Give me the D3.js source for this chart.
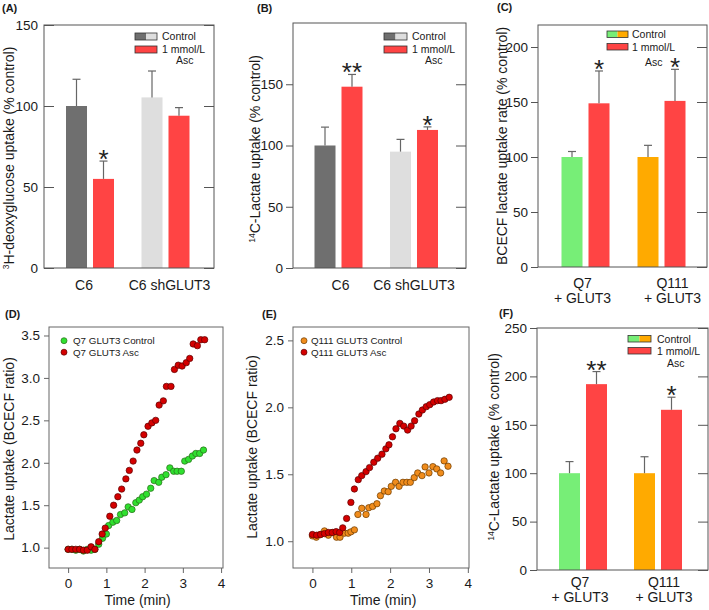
<!DOCTYPE html>
<html><head><meta charset="utf-8">
<script src="https://cdn.jsdelivr.net/npm/d3@7/dist/d3.min.js"></script>
<style>
body{margin:0;background:#fff}
svg{display:block;font-family:"Liberation Sans",Arial,sans-serif}
</style>
</head><body>
<svg id="c" width="709" height="610"></svg>
<script>
// ---------------- DATA ----------------
const groupsC6 = ["C6", "C6 shGLUT3"];
const groupsQ = [["Q7", "+ GLUT3"], ["Q111", "+ GLUT3"]];
const legendLabels = ["Control", "1 mmol/L", "Asc"];

// (A) 3H-deoxyglucose uptake (% control)
const aControl = [100, 105.3];
const aControlErr = [16.5, 16.3];
const aAsc = [55, 94];
const aAscErr = [11, 5];
const aSig = ["*", ""];
const aTicks = [0, 50, 100, 150];

// (B) 14C-Lactate uptake (% control)
const bControl = [100, 95];
const bControlErr = [15, 10];
const bAsc = [148, 112.7];
const bAscErr = [10, 2.5];
const bSig = ["**", "*"];
const bTicks = [0, 50, 100, 150];

// (C) BCECF lactate uptake rate (% control)
const cControl = [100, 100];
const cControlErr = [5, 10.6];
const cAsc = [148.8, 151];
const cAscErr = [29.4, 28.7];
const cSig = ["*", "*"];
const cTicks = [0, 50, 100, 150, 200];

// (F) 14C-Lactate uptake (% control)
const fControl = [100, 100];
const fControlErr = [12, 17];
const fAsc = [192, 165.5];
const fAscErr = [13, 13];
const fSig = ["**", "*"];
const fTicks = [0, 50, 100, 150, 200, 250];

// (D) Q7 GLUT3 time course
const q7ControlT = [0,0.1,0.2,0.3,0.4,0.5,0.6,0.7,0.8,0.9,1.0,1.06,1.17,1.27,1.37,1.48,1.57,1.67,1.77,1.86,1.95,2.05,2.16,2.25,2.37,2.45,2.56,2.66,2.76,2.85,2.96,3.05,3.15,3.25,3.34,3.44,3.54];
const q7ControlV = [0.98,0.98,0.97,0.98,0.96,0.98,0.97,0.98,1.04,1.11,1.16,1.26,1.30,1.32,1.39,1.41,1.48,1.45,1.53,1.56,1.60,1.63,1.70,1.79,1.77,1.83,1.86,1.94,1.90,1.90,1.90,2.02,2.04,2.08,2.11,2.11,2.15];
const q7AscT = [0,0.1,0.2,0.3,0.4,0.5,0.6,0.7,0.8,0.89,0.97,1.09,1.19,1.30,1.40,1.51,1.60,1.70,1.80,1.90,1.98,2.09,2.19,2.29,2.38,2.49,2.57,2.69,2.78,2.88,2.98,3.09,3.18,3.27,3.38,3.47,3.57];
const q7AscV = [0.98,0.98,0.98,0.98,0.97,0.97,1.01,0.98,1.07,1.16,1.23,1.37,1.50,1.60,1.69,1.81,1.91,2.02,2.15,2.23,2.33,2.43,2.47,2.50,2.68,2.73,2.90,2.90,3.10,3.15,3.14,3.18,3.23,3.40,3.38,3.45,3.45];
const dYTicks = [1.0, 1.5, 2.0, 2.5, 3.0, 3.5];

// (E) Q111 GLUT3 time course
const q111ControlT = [0,0.1,0.2,0.31,0.41,0.51,0.62,0.71,0.82,0.92,0.99,1.08,1.17,1.27,1.38,1.45,1.55,1.66,1.75,1.85,1.95,2.03,2.14,2.23,2.33,2.43,2.52,2.62,2.71,2.82,2.90,3.00,3.10,3.20,3.30,3.39,3.49];
const q111ControlV = [1.04,1.03,1.05,1.077,1.045,1.065,1.03,1.03,1.06,1.06,1.07,1.085,1.20,1.246,1.20,1.25,1.26,1.28,1.34,1.375,1.37,1.41,1.44,1.41,1.44,1.44,1.44,1.475,1.51,1.49,1.555,1.51,1.557,1.54,1.51,1.60,1.56];
const q111AscT = [0,0.11,0.21,0.31,0.41,0.51,0.61,0.70,0.78,0.88,0.99,1.08,1.18,1.27,1.38,1.47,1.58,1.68,1.79,1.89,1.97,2.06,2.15,2.25,2.35,2.45,2.54,2.63,2.74,2.83,2.93,3.02,3.12,3.22,3.31,3.41,3.52];
const q111AscV = [1.05,1.045,1.05,1.057,1.065,1.065,1.072,1.065,1.10,1.17,1.29,1.39,1.46,1.49,1.52,1.55,1.59,1.62,1.65,1.69,1.72,1.78,1.84,1.88,1.86,1.83,1.86,1.90,1.95,1.98,2.005,2.02,2.04,2.05,2.05,2.06,2.075];
const eYTicks = [1.0, 1.5, 2.0, 2.5];
const timeTicks = [0, 1, 2, 3, 4];

// ---------------- STYLE ----------------
const RED = "#ff4444", DARK = "#6f6f6f", LIGHT = "#dedede", GREEN = "#77ee77", ORANGE = "#ffaa00";
const FRAME = "#555", ERR = "#666", TXT = "#1a1a1a";

const svg = d3.select("#c");

function yLabel(g, x, y, parts) {
  const t = g.append("text").attr("transform", `translate(${x},${y}) rotate(-90)`)
    .attr("text-anchor", "middle").attr("font-size", 14).attr("fill", TXT);
  parts.forEach(p => {
    const s = t.append("tspan").text(p.t);
    if (p.sup) s.attr("font-size", 8.5).attr("baseline-shift", "super");
  });
}

function barPanel(o) {
  const g = svg.append("g");
  const B = o.box;
  const y = d3.scaleLinear().domain(o.yDomain).range([B.y1, B.y0]);
  const gx = d3.scalePoint().domain(d3.range(o.groups.length)).range(o.groupRange);
  const sx = d3.scaleBand().domain(["ctrl", "asc"]).range([-24, 24]).paddingInner(0.222);

  const rows = [];
  o.groups.forEach((grp, i) => {
    rows.push({ i, k: "ctrl", v: o.ctrl[i], e: o.ctrlErr[i], c: o.ctrlColors[i], s: "" });
    rows.push({ i, k: "asc", v: o.asc[i], e: o.ascErr[i], c: RED, s: o.sig[i] });
  });
  const cx = d => gx(d.i) + sx(d.k) + sx.bandwidth() / 2;

  g.selectAll("rect.bar").data(rows).join("rect").attr("class", "bar")
    .attr("x", d => gx(d.i) + sx(d.k)).attr("width", sx.bandwidth())
    .attr("y", d => y(d.v)).attr("height", d => y(0) - y(d.v)).attr("fill", d => d.c);
  g.selectAll("line.err").data(rows).join("line").attr("class", "err")
    .attr("x1", cx).attr("x2", cx).attr("y1", d => y(d.v)).attr("y2", d => y(d.v + d.e))
    .attr("stroke", ERR).attr("stroke-width", 1.2);
  g.selectAll("line.cap").data(rows).join("line").attr("class", "cap")
    .attr("x1", d => cx(d) - 4).attr("x2", d => cx(d) + 4)
    .attr("y1", d => y(d.v + d.e)).attr("y2", d => y(d.v + d.e))
    .attr("stroke", ERR).attr("stroke-width", 1.2);
  g.selectAll("text.sig").data(rows.filter(d => d.s)).join("text").attr("class", "sig")
    .attr("x", cx).attr("y", d => y(d.v + d.e) + 7).attr("text-anchor", "middle")
    .attr("font-size", 26).attr("fill", "#222").text(d => d.s);

  // frame
  g.append("rect").attr("x", B.x0).attr("y", B.y0).attr("width", B.x1 - B.x0).attr("height", B.y1 - B.y0)
    .attr("fill", "none").attr("stroke", FRAME).attr("stroke-width", 1);
  // left axis
  const la = g.append("g").attr("transform", `translate(${B.x0},0)`)
    .call(d3.axisLeft(y).tickValues(o.ticks).tickSize(o.leftIn ? -10 : 7).tickPadding(o.leftIn ? 6 : 3).tickFormat(d3.format("d")));
  la.select(".domain").remove();
  la.selectAll("line").attr("stroke", FRAME);
  la.selectAll("text").attr("font-size", 13.5).attr("fill", TXT).attr("font-family", null);
  const ra = g.append("g").attr("transform", `translate(${B.x1},0)`)
    .call(d3.axisRight(y).tickValues(o.ticks).tickSize(-10).tickFormat(""));
  ra.select(".domain").remove();
  ra.selectAll("line").attr("stroke", FRAME);

  // x labels
  o.groups.forEach((grp, i) => {
    const lines = Array.isArray(grp) ? grp : [grp];
    const xx = gx(i) + (o.labelShift ? o.labelShift[i] : 0);
    const t = g.append("text").attr("text-anchor", "middle").attr("font-size", 14).attr("fill", TXT)
      .attr("x", xx).attr("y", o.xLabelY);
    lines.forEach((ln, j) => t.append("tspan").attr("x", xx).attr("dy", j === 0 ? 0 : 15).text(ln));
  });

  // legend
  const L = o.legend;
  const half = L.w / 2;
  g.append("rect").attr("x", L.x).attr("y", L.y).attr("width", half).attr("height", L.h).attr("fill", o.ctrlColors[0]);
  g.append("rect").attr("x", L.x + half).attr("y", L.y).attr("width", half).attr("height", L.h).attr("fill", o.ctrlColors[1]);
  g.append("rect").attr("x", L.x).attr("y", L.y).attr("width", L.w).attr("height", L.h)
    .attr("fill", "none").attr("stroke", "#333").attr("stroke-width", 0.8);
  g.append("rect").attr("x", L.x).attr("y", L.y + L.row).attr("width", L.w).attr("height", L.h)
    .attr("fill", RED).attr("stroke", "#333").attr("stroke-width", 0.8);
  g.append("text").attr("x", L.tx).attr("y", L.y + 7).attr("font-size", 10.5).attr("fill", TXT).text(legendLabels[0]);
  g.append("text").attr("x", L.tx).attr("y", L.y + 7 + L.row).attr("font-size", 10.5).attr("fill", TXT).text(legendLabels[1]);
  g.append("text").attr("x", L.ax).attr("y", L.y + 7 + L.row + L.asc).attr("font-size", 10.5).attr("fill", TXT).text(legendLabels[2]);

  yLabel(g, o.yl.x, o.yl.y, o.ytitle);
  g.append("text").attr("x", o.tag.x).attr("y", o.tag.y).attr("font-size", 11).attr("font-weight", "bold")
    .attr("fill", TXT).text(o.tag.t);
}

function scatterPanel(o) {
  const g = svg.append("g");
  const B = o.box;
  const x = d3.scaleLinear().domain(o.xDomain).range([B.x0, B.x1]);
  const y = d3.scaleLinear().domain(o.yDomain).range([B.y1, B.y0]);
  o.series.forEach(s => {
    const pts = s.t.map((t, i) => [t, s.v[i]]);
    g.append("g").selectAll("circle").data(pts).join("circle")
      .attr("cx", d => x(d[0])).attr("cy", d => y(d[1])).attr("r", 3.2)
      .attr("fill", s.c).attr("stroke", s.sc).attr("stroke-width", 0.7);
  });
  g.append("rect").attr("x", B.x0).attr("y", B.y0).attr("width", B.x1 - B.x0).attr("height", B.y1 - B.y0)
    .attr("fill", "none").attr("stroke", "#666").attr("stroke-width", 1);
  const la = g.append("g").attr("transform", `translate(${B.x0},0)`)
    .call(d3.axisLeft(y).tickValues(o.yTicks).tickSize(5).tickPadding(4).tickFormat(d3.format(".1f")));
  const ba = g.append("g").attr("transform", `translate(0,${B.y1})`)
    .call(d3.axisBottom(x).tickValues(timeTicks).tickSize(5).tickPadding(5).tickFormat(d3.format("d")));
  [la, ba].forEach(a => {
    a.select(".domain").remove();
    a.selectAll("line").attr("stroke", "#666");
    a.selectAll("text").attr("font-size", 13.5).attr("fill", TXT).attr("font-family", null);
  });
  g.append("text").attr("x", (x(0) + x(4)) / 2 - 7).attr("y", 605).attr("text-anchor", "middle")
    .attr("font-size", 14).attr("fill", TXT).text("Time (min)");
  // legend
  o.series.forEach((s, i) => {
    g.append("circle").attr("cx", o.leg.x).attr("cy", o.leg.y + i * 11.5).attr("r", 3)
      .attr("fill", s.c).attr("stroke", s.sc).attr("stroke-width", 0.7);
    g.append("text").attr("x", o.leg.tx).attr("y", o.leg.y + i * 11.5 + 3.5).attr("font-size", 9.8)
      .attr("fill", TXT).text(s.name);
  });
  yLabel(g, o.yl.x, o.yl.y, [{ t: "Lactate uptake (BCECF ratio)" }]);
  g.append("text").attr("x", o.tag.x).attr("y", o.tag.y).attr("font-size", 11).attr("font-weight", "bold")
    .attr("fill", TXT).text(o.tag.t);
}

// (A)
barPanel({
  box: { x0: 44, x1: 214, y0: 25, y1: 268 }, yDomain: [0, 150], ticks: aTicks, leftIn: true,
  groups: groupsC6, groupRange: [90, 165.5], ctrl: aControl, ctrlErr: aControlErr, asc: aAsc, ascErr: aAscErr,
  sig: aSig, ctrlColors: [DARK, LIGHT], xLabelY: 290, labelShift: [-6, 4],
  legend: { x: 135, y: 33, w: 22, h: 7, row: 13, tx: 162, ax: 176, asc: 11 },
  yl: { x: 14, y: 158 }, ytitle: [{ t: "3", sup: true }, { t: "H-deoxyglucose uptake (% control)" }],
  tag: { x: 2, y: 12, t: "(A)" }
});
// (B)
barPanel({
  box: { x0: 293, x1: 466, y0: 23, y1: 268 }, yDomain: [0, 200], ticks: bTicks, leftIn: false,
  groups: groupsC6, groupRange: [338.5, 414], ctrl: bControl, ctrlErr: bControlErr, asc: bAsc, ascErr: bAscErr,
  sig: bSig, ctrlColors: [DARK, LIGHT], xLabelY: 290, labelShift: [2, 0],
  legend: { x: 384, y: 33, w: 23, h: 7, row: 13, tx: 412, ax: 425, asc: 11 },
  yl: { x: 260, y: 149 }, ytitle: [{ t: "14", sup: true }, { t: "C-Lactate uptake (% control)" }],
  tag: { x: 257, y: 12, t: "(B)" }
});
// (C)
barPanel({
  box: { x0: 538, x1: 707, y0: 25, y1: 267 }, yDomain: [0, 220], ticks: cTicks, leftIn: false,
  groups: groupsQ, groupRange: [585.5, 661.5], ctrl: cControl, ctrlErr: cControlErr, asc: cAsc, ascErr: cAscErr,
  sig: cSig, ctrlColors: [GREEN, ORANGE], xLabelY: 288, labelShift: [-3, 11],
  legend: { x: 607, y: 31, w: 21, h: 6.5, row: 12.5, tx: 632, ax: 645, asc: 15 },
  yl: { x: 507, y: 146 }, ytitle: [{ t: "BCECF lactate uptake rate (% control)" }],
  tag: { x: 497, y: 11, t: "(C)" }
});
// (F)
barPanel({
  box: { x0: 537, x1: 708, y0: 328, y1: 570 }, yDomain: [0, 250], ticks: fTicks, leftIn: false,
  groups: groupsQ, groupRange: [583, 658], ctrl: fControl, ctrlErr: fControlErr, asc: fAsc, ascErr: fAscErr,
  sig: fSig, ctrlColors: [GREEN, ORANGE], xLabelY: 587, labelShift: [-3, 6],
  legend: { x: 628, y: 335.5, w: 23, h: 6.5, row: 12, tx: 657, ax: 667, asc: 12 },
  yl: { x: 499, y: 447 }, ytitle: [{ t: "14", sup: true }, { t: "C-Lactate uptake (% control)" }],
  tag: { x: 499, y: 317, t: "(F)" }
});
// (D)
scatterPanel({
  box: { x0: 49, x1: 223, y0: 327, y1: 568 }, xDomain: [-0.5, 4.05], yDomain: [0.76, 3.6], yTicks: dYTicks,
  series: [
    { name: "Q7 GLUT3 Control", t: q7ControlT, v: q7ControlV, c: "#2fe02f", sc: "#2a6a1a" },
    { name: "Q7 GLUT3  Asc", t: q7AscT, v: q7AscV, c: "#d40000", sc: "#5a0000" }
  ],
  leg: { x: 64, y: 340.7, tx: 73 },
  yl: { x: 14, y: 449 }, tag: { x: 5, y: 318, t: "(D)" }
});
// (E)
scatterPanel({
  box: { x0: 293, x1: 469, y0: 327, y1: 568 }, xDomain: [-0.5, 4.03], yDomain: [0.8, 2.6], yTicks: eYTicks,
  series: [
    { name: "Q111 GLUT3 Control", t: q111ControlT, v: q111ControlV, c: "#f08c1c", sc: "#6a3a00" },
    { name: "Q111 GLUT3 Asc", t: q111AscT, v: q111AscV, c: "#d40000", sc: "#5a0000" }
  ],
  leg: { x: 304, y: 340.7, tx: 311 },
  yl: { x: 257, y: 447 }, tag: { x: 262, y: 318, t: "(E)" }
});
</script>
</body></html>
